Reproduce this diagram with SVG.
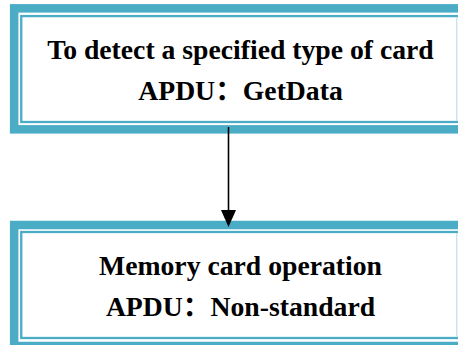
<svg xmlns="http://www.w3.org/2000/svg" width="458" height="345" viewBox="0 0 458 345">
<style>
.band{fill:none;stroke:#4BACC6;stroke-width:8.5}
.thin{fill:none;stroke:#4BACC6;stroke-width:2.3}
.edge{stroke:#C8E4EE;stroke-width:1.5}
.t{font-family:'Liberation Serif',serif;font-weight:bold;font-size:27.7px;fill:#000;text-anchor:middle}
.cj{font-family:'Noto Sans CJK SC',sans-serif}
</style>
<rect width="458" height="345" fill="#fff"/>
<g id="node-detect">
<rect class="band" x="14.15" y="8.35" width="460" height="121"/>
<rect class="thin" x="21.25" y="16.1" width="450" height="105.9"/>
<line class="edge" x1="456.7" y1="17" x2="456.7" y2="121"/>
<text class="t" x="240.5" y="59">To detect a specified type of card</text>
<text class="t" x="240.5" y="100">APDU<tspan class="cj">：</tspan>GetData</text>
</g>
<g id="node-memory">
<rect class="band" x="14.15" y="225" width="460" height="121"/>
<rect class="thin" x="21.25" y="232" width="450" height="106"/>
<line class="edge" x1="456.7" y1="233" x2="456.7" y2="337"/>
<text class="t" x="240.5" y="275">Memory card operation</text>
<text class="t" x="240.5" y="316">APDU<tspan class="cj">：</tspan>Non-standard</text>
</g>
<g id="connectors">
<line x1="228.5" y1="127" x2="228.5" y2="212" stroke="#000" stroke-width="1.6"/>
<path d="M221,210 L236,210 L228.5,227 Z" fill="#000"/>
</g>
</svg>
